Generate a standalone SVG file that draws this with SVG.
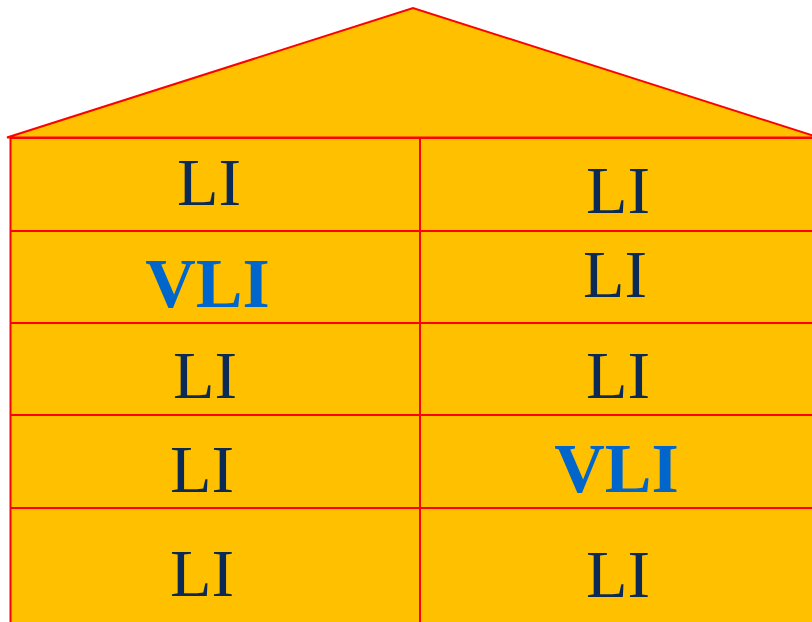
<svg xmlns="http://www.w3.org/2000/svg" width="812" height="622" viewBox="0 0 812 622">
<style>
.shape{fill:#FFC000;stroke:#FF0000;stroke-width:2}
.ln{stroke:#FF0000;stroke-width:2;fill:none}
.li{font-family:"Liberation Serif","Times New Roman",serif;font-size:68px;fill:#0B2A55;text-anchor:middle}
.vli{font-family:"Liberation Serif","Times New Roman",serif;font-size:70px;font-weight:bold;fill:#0066CC;text-anchor:middle}
</style>
<rect width="812" height="622" fill="#FFFFFF"/>
<g id="roof">
<polygon class="shape" points="7,137.5 413,8 819,137.5"/>
</g>
<g id="body">
<rect class="shape" x="10.5" y="138" width="820" height="500"/>
</g>
<g id="connectors">
<line class="ln" x1="420" y1="138" x2="420" y2="622"/>
<line class="ln" x1="10" y1="231" x2="812" y2="231"/>
<line class="ln" x1="10" y1="323" x2="812" y2="323"/>
<line class="ln" x1="10" y1="415" x2="812" y2="415"/>
<line class="ln" x1="10" y1="508" x2="812" y2="508"/>
</g>
<g id="r1l"><text class="li" x="209" y="205">LI</text></g>
<g id="r1r"><text class="li" x="618" y="213">LI</text></g>
<g id="r2l"><text class="vli" x="207.5" y="307">VLI</text></g>
<g id="r2r"><text class="li" x="615" y="297">LI</text></g>
<g id="r3l"><text class="li" x="205" y="398">LI</text></g>
<g id="r3r"><text class="li" x="618" y="398">LI</text></g>
<g id="r4l"><text class="li" x="202" y="492">LI</text></g>
<g id="r4r"><text class="vli" x="616.5" y="492">VLI</text></g>
<g id="r5l"><text class="li" x="202" y="596">LI</text></g>
<g id="r5r"><text class="li" x="618" y="597">LI</text></g>
</svg>
